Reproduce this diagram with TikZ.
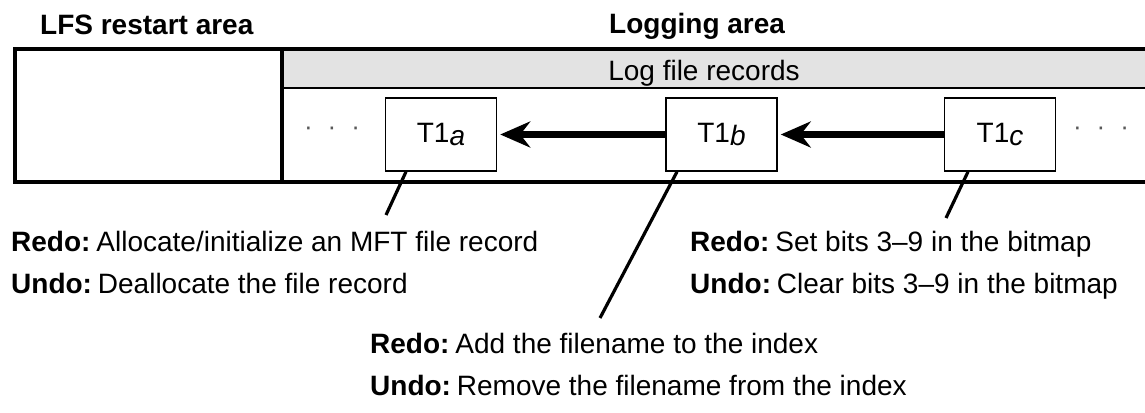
\documentclass[tikz,border=0pt]{standalone}
\usepackage{fontspec}
\setmainfont{Liberation Sans}
\usetikzlibrary{arrows.meta}
\newcommand{\lbl}[1]{\textbf{#1}\hspace{0.21em}}
\begin{document}
\begin{tikzpicture}[x=1pt,y=-1pt,
  txt/.style={font=\fontsize{28}{32}\selectfont, inner sep=0pt, anchor=base west},
  head/.style={font=\fontsize{28}{32}\selectfont\bfseries, inner sep=0pt, anchor=base west},
  rec/.style={draw, line width=1.5pt, fill=white, minimum width=111pt, minimum height=73pt, inner sep=0pt, font=\fontsize{28}{32}\selectfont},
  frame/.style={line width=4.5pt},
  link/.style={line width=7pt, -{Stealth[length=30pt,width=26pt,inset=10pt]}},
  lead/.style={line width=3.2pt},
  dots/.style={font=\fontsize{26}{32}\selectfont, inner sep=0pt, text=black!65}]
\useasboundingbox (0,0) rectangle (1145,412);
% log file records band
\fill[black!11] (282,51) rectangle (1145,88);
\draw[line width=1.5pt] (282,88) -- (1145,88);
% frame
\draw[frame] (1146,49) -- (15,49) -- (15,182) -- (1146,182);
\draw[frame] (282,49) -- (282,182);
% headings
\node[head] (lfs) at (40,35) {LFS restart area};
\node[head] (logarea) at (609,34) {Logging area};
\node[font=\fontsize{28}{32}\selectfont, inner sep=0pt, anchor=base] (lfr) at (704,80) {Log file records};
% records
\node[rec] (a) at (441,134.5) {T1\raisebox{-3pt}{\itshape a}};
\node[rec] (b) at (721.5,134.5) {T1\raisebox{-3pt}{\itshape b}};
\node[rec] (c) at (1000,134.5) {T1\raisebox{-3pt}{\itshape c}};
\node[dots] (dl) at (332,131) {·\hspace{15pt}·\hspace{15pt}·};
\node[dots] (dr) at (1101,131) {·\hspace{15pt}·\hspace{15pt}·};
% arrows
\draw[link] (b.west) -- ([xshift=3pt]a.east);
\draw[link] (c.west) -- ([xshift=3pt]b.east);
% descriptions
\node[txt] (da1) at (11,251) {\lbl{Redo:}Allocate/initialize an MFT file record};
\node[txt] (da2) at (11,293) {\lbl{Undo:}Deallocate the file record};
\node[txt] (dc1) at (690,251) {\lbl{Redo:}Set bits 3--9 in the bitmap};
\node[txt] (dc2) at (690,293) {\lbl{Undo:}Clear bits 3--9 in the bitmap};
\node[txt] (db1) at (370,353) {\lbl{Redo:}Add the filename to the index};
\node[txt] (db2) at (370,395) {\lbl{Undo:}Remove the filename from the index};
% leader lines
\coordinate (ea) at (386,215);
\coordinate (eb) at (600,318);
\coordinate (ec) at (946,218);
\draw[lead] ([xshift=-35pt]a.south) -- (ea);
\draw[lead] ([xshift=-44.5pt]b.south) -- (eb);
\draw[lead] ([xshift=-32pt]c.south) -- (ec);
\end{tikzpicture}
\end{document}
